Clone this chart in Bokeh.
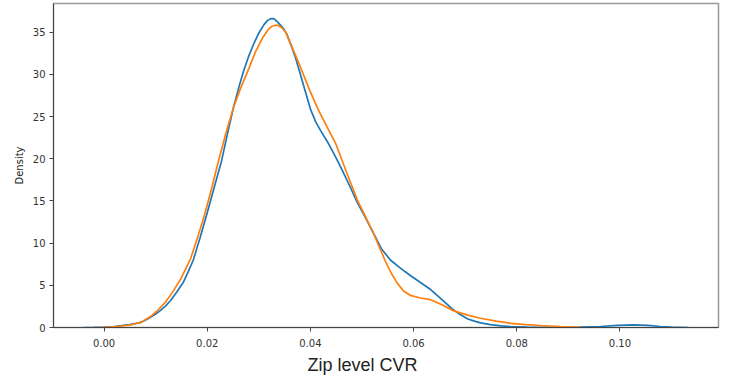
from bokeh.plotting import figure
from bokeh.models import FixedTicker, PrintfTickFormatter, Range1d, Title
from bokeh.embed import file_html
from bokeh.resources import INLINE

# Series (KDE curves)
blue_x = [-0.0040, -0.0020, 0.0000, 0.0020, 0.0045, 0.0060, 0.0071, 0.0080, 0.0090, 0.0100,
          0.0109, 0.0120, 0.0129, 0.0141, 0.0154, 0.0163, 0.0173, 0.0186, 0.0200, 0.0214,
          0.0228, 0.0240, 0.0251, 0.0261, 0.0270, 0.0280, 0.0290, 0.0300, 0.0310, 0.0317,
          0.0323, 0.0329, 0.0335, 0.0341, 0.0347, 0.0354, 0.0361, 0.0371, 0.0381, 0.0391,
          0.0400, 0.0410, 0.0420, 0.0435, 0.0449, 0.0462, 0.0476, 0.0491, 0.0507, 0.0522,
          0.0538, 0.0555, 0.0575, 0.0595, 0.0614, 0.0633, 0.0655, 0.0677, 0.0691, 0.0705,
          0.0718, 0.0730, 0.0749, 0.0770, 0.0788, 0.0820, 0.0865, 0.0920, 0.0962, 0.0995,
          0.1026, 0.1055, 0.1078, 0.1100, 0.1133]
blue_y = [0.0, 0.01, 0.05, 0.12, 0.3, 0.45, 0.6, 0.85, 1.2, 1.6,
          2.0, 2.6, 3.2, 4.2, 5.4, 6.6, 8.0, 10.6, 13.6, 16.7,
          19.8, 23.2, 26.1, 28.4, 30.3, 32.1, 33.6, 34.9, 35.9, 36.4,
          36.6, 36.6, 36.3, 35.9, 35.5, 34.8, 33.7, 32.0, 29.9, 27.8,
          25.9, 24.4, 23.3, 21.8, 20.2, 18.6, 16.8, 14.8, 13.0, 11.2,
          9.3, 8.0, 7.0, 6.1, 5.3, 4.5, 3.3, 2.1, 1.5, 1.0,
          0.75, 0.55, 0.35, 0.2, 0.1, 0.04, 0.02, 0.05, 0.12, 0.25,
          0.3, 0.25, 0.12, 0.04, 0.0]

orange_x = [-0.0016, 0.0000, 0.0030, 0.0055, 0.0071, 0.0090, 0.0105, 0.0119, 0.0135, 0.0150,
            0.0168, 0.0182, 0.0195, 0.0209, 0.0222, 0.0237, 0.0251, 0.0265, 0.0280, 0.0293,
            0.0307, 0.0318, 0.0325, 0.0330, 0.0338, 0.0345, 0.0352, 0.0361, 0.0371, 0.0381,
            0.0398, 0.0416, 0.0432, 0.0449, 0.0470, 0.0491, 0.0507, 0.0522, 0.0533, 0.0545,
            0.0557, 0.0569, 0.0581, 0.0594, 0.0613, 0.0633, 0.0655, 0.0677, 0.0703, 0.0730,
            0.0760, 0.0788, 0.0817, 0.0846, 0.0885, 0.0924]
orange_y = [0.0, 0.03, 0.15, 0.35, 0.6, 1.3, 2.1, 3.0, 4.4, 5.9,
            8.2, 10.8, 13.4, 16.6, 19.8, 23.2, 26.1, 28.4, 30.6, 32.6,
            34.3, 35.3, 35.7, 35.8, 35.8, 35.5, 35.0, 33.7, 32.3, 30.8,
            28.2, 25.7, 23.8, 21.8, 18.4, 15.1, 13.1, 11.2, 9.6, 7.9,
            6.4, 5.2, 4.3, 3.8, 3.5, 3.3, 2.7, 2.0, 1.5, 1.1,
            0.75, 0.5, 0.35, 0.24, 0.12, 0.03]

x_ticks = [0.00, 0.02, 0.04, 0.06, 0.08, 0.10]
y_ticks = [0, 5, 10, 15, 20, 25, 30, 35]

p = figure(width=723, height=384, output_backend="svg", toolbar_location=None,
           x_range=Range1d(-0.0098, 0.1191), y_range=Range1d(0, 38.4),
           min_border_left=53, min_border_right=5, min_border_top=3, min_border_bottom=57)

p.line(blue_x, blue_y, line_color="#1f77b4", line_width=1.7)
p.line(orange_x, orange_y, line_color="#ff7f0e", line_width=1.7)

p.xgrid.visible = False
p.ygrid.visible = False
p.outline_line_color = "#999999"
p.outline_line_width = 1.5

p.xaxis.ticker = FixedTicker(ticks=x_ticks)
p.xaxis.formatter = PrintfTickFormatter(format="%.2f")
p.yaxis.ticker = FixedTicker(ticks=y_ticks)

for ax in (p.xaxis, p.yaxis):
    ax.minor_tick_line_color = None
    ax.major_tick_in = 0
    ax.major_tick_out = 4
    ax.axis_line_color = "#444444"
    ax.major_tick_line_color = "#444444"
    ax.major_label_text_font = "DejaVu Sans"
    ax.major_label_text_font_size = "10px"
    ax.major_label_text_color = "#333333"
    ax.axis_label_text_font_style = "normal"

p.xaxis.major_label_standoff = 7

xlabel = Title(text="Zip level CVR", align="left", offset=254,
               text_font="Liberation Sans", text_font_size="18px",
               text_font_style="normal", text_color="#222222", standoff=6)
p.add_layout(xlabel, "below")

p.yaxis.axis_label = "Density"
p.yaxis.axis_label_text_font = "DejaVu Sans"
p.yaxis.axis_label_text_font_size = "10px"
p.yaxis.axis_label_text_color = "#222222"
p.yaxis.axis_label_standoff = 5
p.yaxis.major_label_standoff = 4

open("out.html", "w").write(file_html(p, INLINE))
